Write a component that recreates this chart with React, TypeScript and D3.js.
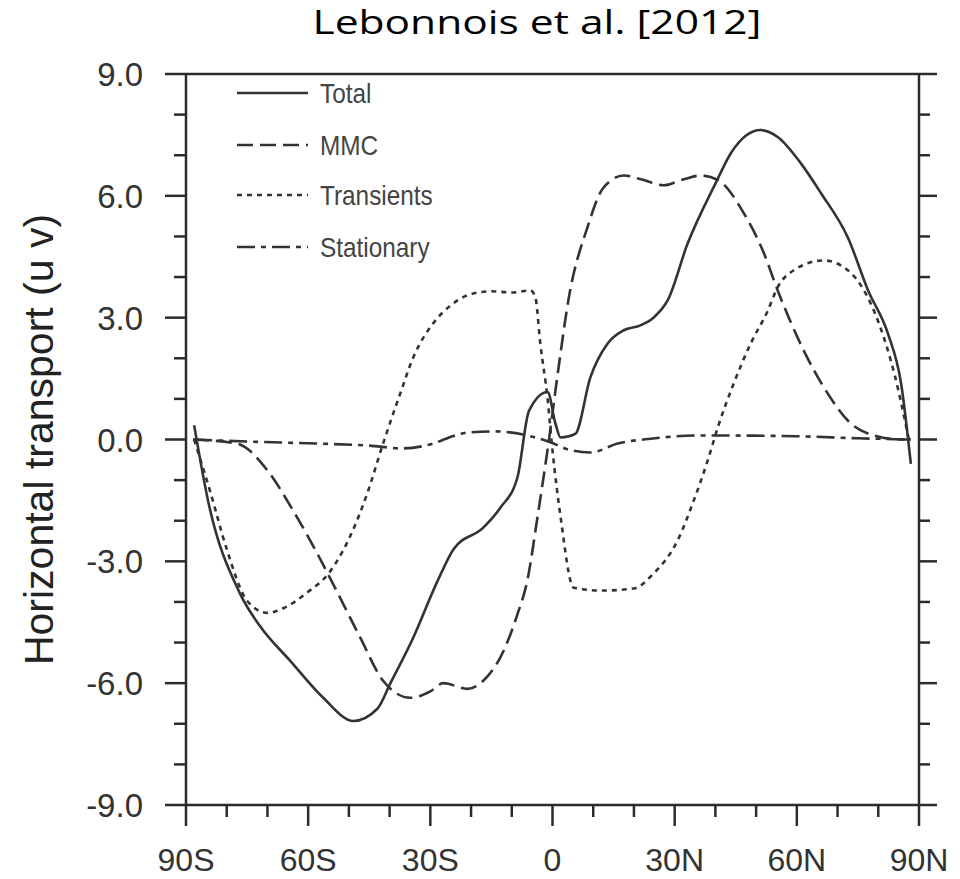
import React from "react";
import * as d3 from "d3";

const xTicks = [-90, -60, -30, 0, 30, 60, 90];
const xTickLabels = ["90S", "60S", "30S", "0", "30N", "60N", "90N"];
const yTicks = [9, 6, 3, 0, -3, -6, -9];
const yTickLabels = ["9.0", "6.0", "3.0", "0.0", "-3.0", "-6.0", "-9.0"];

const totalLat = [-88, -84.6, -76.7, -71.8, -64.4, -56.3, -48.9, -43, -39.8, -34.2, -28.3, -24.3, -17, -12.8, -8.6, -5.8, -1.2, 0.7, 2, 5.6, 9.3, 13.5, 17.5, 21.6, 24.8, 28.3, 33.2, 40, 43.8, 51.1, 55.3, 61, 65.9, 72.5, 77.5, 82.4, 85.6, 88];
const totalVal = [0.35, -1.5, -3.8, -4.6, -5.45, -6.36, -6.93, -6.63, -6.0, -4.88, -3.5, -2.7, -2.17, -1.68, -0.93, 0.7, 1.17, 0.4, 0.05, 0.14, 1.53, 2.36, 2.69, 2.81, 3.0, 3.43, 4.83, 6.3, 7.05, 7.62, 7.45, 6.8, 6.07, 4.98, 3.67, 2.6, 1.38, -0.6];

const mmcLat = [-88.3, -77.5, -70, -63.7, -57.8, -52.9, -47.2, -41.6, -34.9, -30, -26.8, -20.9, -17, -12, -8.6, -6.2, -3.7, -1, 1.5, 3.9, 8.6, 12.5, 17.5, 22, 27.3, 32, 36.4, 40.6, 47, 51.9, 55.3, 61.7, 67.6, 73.3, 78.9, 85.6, 88];
const mmcVal = [0, -0.1, -0.76, -1.75, -2.8, -3.75, -4.88, -5.94, -6.36, -6.2, -6.0, -6.14, -5.94, -5.2, -4.3, -3.48, -1.92, -0.1, 1.78, 3.43, 5.23, 6.2, 6.5, 6.4, 6.26, 6.4, 6.5, 6.39, 5.57, 4.59, 3.67, 2.19, 1.13, 0.39, 0.1, 0, 0];

const transLat = [-88, -84, -80, -75, -70, -66, -60, -55, -50, -45.5, -41.6, -37.4, -34.2, -29.3, -25, -20.9, -15, -10, -5.4, -4.2, -3, -1.2, 0, 2, 5.2, 11.8, 19.9, 24.8, 30.7, 34.7, 38.1, 40.6, 44.5, 48.7, 52.9, 55.3, 59.3, 66.6, 72.5, 76.5, 80, 84, 87.5];
const transVal = [0, -1.3, -2.7, -3.97, -4.27, -4.15, -3.75, -3.3, -2.45, -1.33, -0.1, 1.13, 2.02, 2.86, 3.3, 3.55, 3.65, 3.62, 3.67, 3.5, 2.37, 1.0, -0.27, -1.92, -3.65, -3.72, -3.67, -3.3, -2.49, -1.5, -0.52, 0.3, 1.38, 2.37, 3.18, 3.75, 4.17, 4.41, 4.17, 3.67, 2.9, 1.6, 0];

const statLat = [-88, -75, -57.8, -45, -37, -29.3, -24, -20.9, -14, -6.2, -0.5, 4, 9.3, 16, 24.1, 36.4, 60, 75, 88];
const statVal = [0, -0.05, -0.1, -0.15, -0.22, -0.1, 0.1, 0.17, 0.2, 0.1, -0.07, -0.25, -0.32, -0.1, 0.02, 0.1, 0.08, 0.03, 0];

const seriesNames = ["Total", "MMC", "Transients", "Stationary"];
const seriesDash = ["none", "16 7", "5 5", "18 6 5 6"];

const X0 = 186, X1 = 919, Y0 = 74, Y1 = 805;
const ink = "#2b2b2b";

export default function App() {
  const x = d3.scaleLinear().domain([-90, 90]).range([X0, X1]);
  const y = d3.scaleLinear().domain([-9, 9]).range([Y1, Y0]);
  const line = d3
    .line<[number, number]>()
    .x((d) => x(d[0]))
    .y((d) => y(d[1]))
    .curve(d3.curveMonotoneX);

  const series = [
    [totalLat, totalVal],
    [mmcLat, mmcVal],
    [transLat, transVal],
    [statLat, statVal],
  ].map(([la, va]) => la.map((l, i) => [l, va[i]] as [number, number]));

  const yMinor = d3.range(-9, 9.01, 1).filter((v) => Math.abs(v % 3) > 0.01);
  const xMinor = d3.range(-90, 90.01, 10).filter((v) => Math.abs(v % 30) > 0.01);

  const legendY = [93, 145, 195, 247];

  return (
    <svg width={960} height={879} style={{ display: "block", position: "absolute", left: 0, top: 0 }}>
      <rect width={960} height={879} fill="#fff" />
      <text
        x={537}
        y={34}
        textAnchor="middle"
        fontFamily="'Open Sans', Lato, sans-serif"
        fontSize={33}
        textLength={449}
        lengthAdjust="spacingAndGlyphs"
        fill="#000"
      >
        Lebonnois et al. [2012]
      </text>
      <text
        transform={`translate(53,${(Y0 + Y1) / 2}) rotate(-90)`}
        textAnchor="middle"
        fontFamily="'Liberation Sans', Arial, sans-serif"
        fontSize={41}
        fill="#222"
      >
        Horizontal transport (u v)
      </text>
      {/* frame */}
      <g stroke={ink} strokeWidth={2.5} fill="none">
        <line x1={X0} y1={Y0} x2={X1} y2={Y0} />
        <line x1={X0} y1={Y1} x2={X1} y2={Y1} />
        <line x1={X0} y1={Y0} x2={X0} y2={Y1} />
        <line x1={X1} y1={Y0} x2={X1} y2={Y1} />
        {yTicks.map((t) => (
          <g key={"ym" + t}>
            <line x1={X0 - 21} x2={X0} y1={y(t)} y2={y(t)} />
            <line x1={X1} x2={X1 + 18} y1={y(t)} y2={y(t)} />
          </g>
        ))}
        {yMinor.map((t) => (
          <g key={"yn" + t}>
            <line x1={X0 - 12} x2={X0} y1={y(t)} y2={y(t)} />
            <line x1={X1} x2={X1 + 11} y1={y(t)} y2={y(t)} />
          </g>
        ))}
        {xTicks.map((t) => (
          <line key={"xm" + t} x1={x(t)} x2={x(t)} y1={Y1} y2={Y1 + 21} />
        ))}
        {xMinor.map((t) => (
          <line key={"xn" + t} x1={x(t)} x2={x(t)} y1={Y1} y2={Y1 + 12} />
        ))}
      </g>
      <g fontFamily="'Liberation Sans', Arial, sans-serif" fill="#333">
        {yTicks.map((t, i) => (
          <text key={"yl" + t} x={143} y={y(t) + 12} textAnchor="end" fontSize={33}>
            {yTickLabels[i]}
          </text>
        ))}
        {xTicks.map((t, i) => (
          <text key={"xl" + t} x={x(t)} y={871} textAnchor="middle" fontSize={32}>
            {xTickLabels[i]}
          </text>
        ))}
      </g>
      {/* curves */}
      <g fill="none" stroke="#333" strokeWidth={2.6} strokeLinejoin="round">
        {series.map((s, i) => (
          <path key={"s" + i} d={line(s) || ""} strokeDasharray={seriesDash[i]} />
        ))}
      </g>
      {/* legend */}
      <g>
        {seriesNames.map((n, i) => (
          <g key={"lg" + i}>
            <line x1={237} x2={308} y1={legendY[i]} y2={legendY[i]} stroke="#333" strokeWidth={2.6} strokeDasharray={seriesDash[i]} />
            <text
              transform={`translate(320,${legendY[i] + 10}) scale(0.87,1)`}
              fontFamily="'Liberation Sans', Arial, sans-serif"
              fontSize={28}
              fill="#444"
            >
              {n}
            </text>
          </g>
        ))}
      </g>
    </svg>
  );
}
